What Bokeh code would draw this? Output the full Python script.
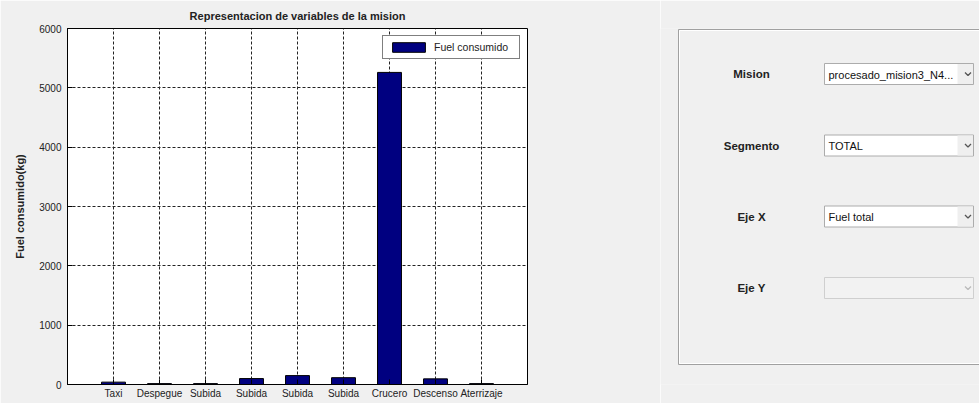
from bokeh.plotting import figure
from bokeh.layouts import row
from bokeh.models import Range1d, FixedTicker, Legend, LegendItem, ColumnDataSource
from bokeh.embed import file_html
from bokeh.resources import INLINE
from bokeh.core.properties import value

# ---- data ----
categories = ["Taxi", "Despegue", "Subida", "Subida", "Subida", "Subida",
              "Crucero", "Descenso", "Aterrizaje"]
fuel = [40, 15, 15, 100, 150, 115, 5260, 95, 15]
y_ticks = [0, 1000, 2000, 3000, 4000, 5000, 6000]
series_name = "Fuel consumido"
chart_title = "Representacion de variables de la mision"
y_label = "Fuel consumido(kg)"

panel_labels = ["Mision", "Segmento", "Eje X", "Eje Y"]
panel_values = ["procesado_mision3_N4...", "TOTAL", "Fuel total", ""]
panel_enabled = [True, True, True, False]

FONT = "Liberation Sans"
BG = "#f0f0f0"
TXT = "#222222"

# ---- bar chart ----
xs = list(range(1, len(categories) + 1))
src = ColumnDataSource(dict(x=xs, top=fuel, cat=categories))

p = figure(width=660, height=403, output_backend="svg", toolbar_location=None,
           x_range=Range1d(0, len(categories) + 1), y_range=Range1d(0, 6000),
           min_border_left=67, min_border_right=133, min_border_top=28,
           min_border_bottom=19)
p.background_fill_color = "white"
p.border_fill_color = BG
p.outline_line_color = "black"
p.outline_line_width = 1

p.title.text = chart_title
p.title.align = "center"
p.title.text_font = FONT
p.title.text_font_size = "11px"
p.title.text_font_style = "bold"
p.title.text_color = TXT
p.title.standoff = 13

p.xaxis.ticker = FixedTicker(ticks=xs)
p.xaxis.major_label_overrides = {x: c for x, c in zip(xs, categories)}
p.yaxis.ticker = FixedTicker(ticks=y_ticks)
for ax in (p.xaxis, p.yaxis):
    ax.major_tick_in = 5
    ax.major_tick_out = 0
    ax.minor_tick_in = 0
    ax.minor_tick_out = 0
    ax.axis_line_color = "black"
    ax.major_tick_line_color = "black"
    ax.major_label_text_font = FONT
    ax.major_label_text_font_size = "10px"
    ax.major_label_text_color = TXT
p.xaxis.major_label_standoff = 3
p.yaxis.major_label_standoff = 6
p.yaxis.axis_label = y_label
p.yaxis.axis_label_text_font = FONT
p.yaxis.axis_label_text_font_size = "11px"
p.yaxis.axis_label_text_font_style = "bold"
p.yaxis.axis_label_text_color = TXT
p.yaxis.axis_label_standoff = 10

p.xgrid.ticker = FixedTicker(ticks=xs)
p.ygrid.ticker = FixedTicker(ticks=y_ticks)
for g in (p.xgrid, p.ygrid):
    g.grid_line_color = "#222222"
    g.grid_line_dash = "3 2"
    g.grid_line_width = 1

r = p.vbar(x="x", top="top", width=0.52, source=src,
           fill_color="#000080", line_color="black", line_width=1)

legend = Legend(items=[LegendItem(label=series_name, renderers=[r])],
                location="top_right", margin=7, padding=5, spacing=0,
                glyph_width=41, glyph_height=12, label_standoff=5,
                label_width=80,
                label_text_font=FONT, label_text_font_size="10.5px",
                label_text_color=TXT,
                border_line_color="black", border_line_width=1,
                background_fill_color="white", background_fill_alpha=1)
p.add_layout(legend)

# ---- right control panel (frame aligned with the chart frame: y 28..384) ----
q = figure(width=319, height=403, output_backend="svg", toolbar_location=None,
           title=None,
           x_range=Range1d(660, 979), y_range=Range1d(384, 28),
           min_border_left=0, min_border_right=0,
           min_border_top=28, min_border_bottom=19,
           x_axis_type=None, y_axis_type=None)
q.background_fill_color = BG
q.border_fill_color = BG
q.outline_line_color = None
q.grid.visible = False

q.quad(left=[678], right=[1000], top=[29], bottom=[364],
       fill_color=None, line_color="#a0a0a0", line_width=1)
q.quad(left=[679], right=[1000], top=[30], bottom=[363],
       fill_color=None, line_color="#ffffff", line_width=1)

row_y = [73.5, 145, 216, 287.5]
for lab, val, en, yc in zip(panel_labels, panel_values, panel_enabled, row_y):
    q.text(x=[751], y=[yc], text=[lab], text_align="center",
           text_baseline="middle", text_font=value(FONT),
           text_font_size="11.5px", text_font_style="bold", text_color=TXT)
    q.quad(left=[824], right=[973], top=[yc - 10.5], bottom=[yc + 10.5],
           fill_color="white" if en else "#f2f2f2",
           line_color="#acacac" if en else "#cfcfcf", line_width=1)
    if en:
        q.quad(left=[957], right=[972.5], top=[yc - 10], bottom=[yc + 10],
               fill_color="#efefef", line_color=None)
    q.line(x=[964.5, 967.5, 970.5], y=[yc - 1.5, yc + 1.5, yc - 1.5],
           line_color="#555555" if en else "#bbbbbb", line_width=1.3)
    if val:
        q.text(x=[828], y=[yc + 0.5], text=[val], text_align="left",
               text_baseline="middle", text_font=value(FONT),
               text_font_size="11px", text_color="#111111")

layout = row(p, q)
open("out.html", "w").write(file_html(layout, INLINE))
